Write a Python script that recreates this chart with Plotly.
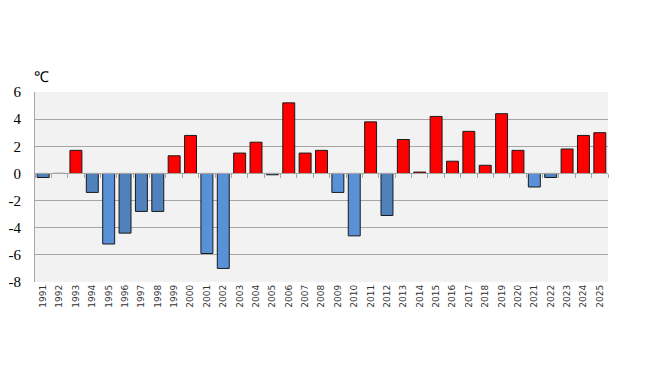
import plotly.graph_objects as go

years = [str(y) for y in range(1991, 2026)]
values = [-0.3, 0.0, 1.7, -1.4, -5.2, -4.4, -2.8, -2.8, 1.3, 2.8,
          -5.9, -7.0, 1.5, 2.3, -0.1, 5.2, 1.5, 1.7, -1.4, -4.6,
          3.8, -3.1, 2.5, 0.1, 4.2, 0.9, 3.1, 0.6, 4.4, 1.7,
          -1.0, -0.3, 1.8, 2.8, 3.0]
light_neg = {"1995", "2001", "2002", "2009", "2010", "2021"}
y_ticks = [-8, -6, -4, -2, 0, 2, 4, 6]
y_tick_labels = ["-8", "-6", "-4", "-2", "0", "2", "4", "6"]
unit_label = "℃"

RED = "#FF0000"
LIGHT_BLUE = "#5891D8"
DARK_BLUE = "#4F81BD"
colors = []
for yr, v in zip(years, values):
    if v >= 0:
        colors.append(RED)
    elif yr in light_neg:
        colors.append(LIGHT_BLUE)
    else:
        colors.append(DARK_BLUE)

SERIF = "Liberation Serif, Times New Roman, serif"

ymin, ymax = -8, 6
ydom = (0.0, 1.0)
zero_pos = ydom[0] + (0 - ymin) / (ymax - ymin) * (ydom[1] - ydom[0])

fig = go.Figure()
fig.add_trace(go.Bar(
    x=years, y=values,
    marker=dict(color=colors, line=dict(color="#1a1a1a", width=1)),
    xaxis="x", yaxis="y",
))
fig.add_trace(go.Bar(x=years, y=[None] * len(years), xaxis="x2", yaxis="y",
                     showlegend=False, hoverinfo="skip"))

fig.update_layout(
    width=649, height=384,
    margin=dict(l=27, r=49, t=84, b=110),
    paper_bgcolor="white",
    plot_bgcolor="#F2F2F2",
    showlegend=False,
    bargap=0.27,
    xaxis=dict(
        type="category", tickangle=-90, automargin=False,
        tickfont=dict(family="DejaVu Sans", size=9, color="#333333"),
        showgrid=False, ticks="", showline=False, zeroline=False,
        domain=[0, 1],
    ),
    xaxis2=dict(
        type="category", overlaying="x", anchor="free", position=zero_pos,
        side="bottom", showticklabels=False, ticks="outside", ticklen=4,
        tickcolor="#A6A6A6", tickson="boundaries", showline=True,
        linecolor="#A6A6A6", linewidth=1, showgrid=False, matches="x",
        automargin=False,
    ),
    yaxis=dict(
        range=[ymin, ymax], tickvals=y_ticks, ticktext=y_tick_labels,
        automargin=False,
        tickfont=dict(family=SERIF, size=15, color="black"),
        showgrid=True, gridcolor="#A6A6A6", gridwidth=1,
        zeroline=False, showline=True, linecolor="#A6A6A6", linewidth=1,
        ticks="", ticklabelstandoff=10, domain=list(ydom),
    ),
    annotations=[dict(
        text=unit_label, xref="paper", yref="paper", x=0, y=1,
        xanchor="left", yanchor="bottom", yshift=5, xshift=-3, showarrow=False,
        font=dict(family=SERIF, size=15, color="black"),
    )],
)

fig.write_html("out.html")
